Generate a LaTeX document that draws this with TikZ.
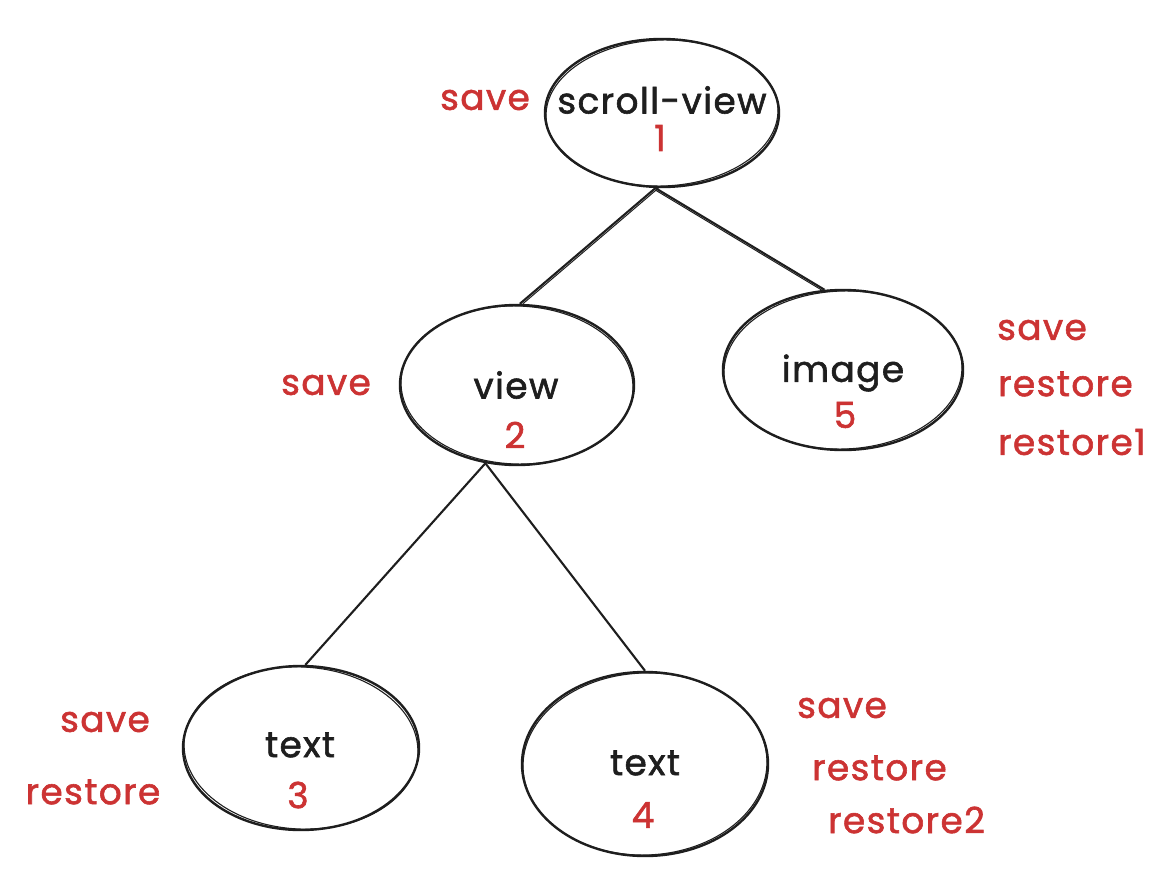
\documentclass[tikz,border=0pt]{standalone}
\usepackage{fontspec}
\setmainfont{Poppins}[FakeBold=1.6,LetterSpace=4]
\usetikzlibrary{shapes.geometric}
\definecolor{lab}{HTML}{CC3333}
\definecolor{ink}{HTML}{1E1E1E}
\begin{document}
\begin{tikzpicture}[x={(1bp,0)},y={(0,-1bp)},
  treenode/.style={ellipse,draw=ink,line width=2.4bp,inner sep=0pt},
  sketch/.style={draw=ink,line width=1.1bp},
  nodetext/.style={text=ink,font=\fontsize{36}{42}\selectfont,inner sep=0pt},
  lbl/.style={text=lab,font=\fontsize{36}{42}\selectfont,inner sep=0pt},
  edge/.style={draw=ink,line width=2.1bp},
  edgetwo/.style={draw=ink,line width=1bp}]
\useasboundingbox[fill=white] (0,0) rectangle (1175,873);

% tree nodes
\node[treenode,minimum width=234bp,minimum height=148bp] (s)  at (662,113) {};
\node[treenode,minimum width=234bp,minimum height=160bp] (v)  at (517,385) {};
\node[treenode,minimum width=240bp,minimum height=160bp] (im) at (843,370) {};
\node[treenode,minimum width=236bp,minimum height=164bp] (t3) at (301,748) {};
\node[treenode,minimum width=246bp,minimum height=184bp] (t4) at (645,764) {};

% second sketch strokes
\draw[sketch,rotate=2]  (s.center)  ellipse [x radius=116bp,y radius=73bp];
\draw[sketch,rotate=-2] (v.center)  ellipse [x radius=116bp,y radius=79bp];
\draw[sketch,rotate=2]  (im.center) ellipse [x radius=119bp,y radius=79bp];
\draw[sketch,rotate=-3] (t3.center) ellipse [x radius=117bp,y radius=81bp];
\draw[sketch,rotate=2]  (t4.center) ellipse [x radius=122bp,y radius=91bp];

% connectors
\draw[edge] (s.265) -- (v.88);
\draw[edgetwo] ([xshift=3bp]s.265) -- ([xshift=3bp]v.88);
\draw[edge] (s.265) -- (im.103);
\draw[edgetwo] ([yshift=-2bp]s.265) -- ([yshift=-2bp]im.103);
\draw[edge] (v.248) -- (t3.87);
\draw[edge] (v.248) -- (t4.90);

% node texts
\node[nodetext] (sname)  at (662,100) {scroll-view};
\node[lbl]  (snum)   at (660,138) {1};
\node[nodetext] (vname)  at (516,385) {view};
\node[lbl]  (vnum)   at (515,435) {2};
\node[nodetext] (imname) at (843,373) {image};
\node[lbl]  (imnum)  at (845,415) {5};
\node[nodetext] (t3name) at (300,745) {text};
\node[lbl]  (t3num)  at (298,795) {3};
\node[nodetext] (t4name) at (645,763) {text};
\node[lbl]  (t4num)  at (643,815) {4};

% side labels
\node[lbl] (ls)   at (485,100) {save};
\node[lbl] (lv)   at (326,385) {save};
\node[lbl,anchor=west] (li1) at (997,330) {save};
\node[lbl,anchor=west] (li2) at (998,384) {restore};
\node[lbl,anchor=west] (li3) at (998,442) {restore1};
\node[lbl] (l3a)  at (105,722) {save};
\node[lbl] (l3b)  at (93,792)  {restore};
\node[lbl,anchor=west] (l4a) at (797,708) {save};
\node[lbl,anchor=west] (l4b) at (812,768) {restore};
\node[lbl,anchor=west] (l4c) at (828,820) {restore2};
\end{tikzpicture}
\end{document}
